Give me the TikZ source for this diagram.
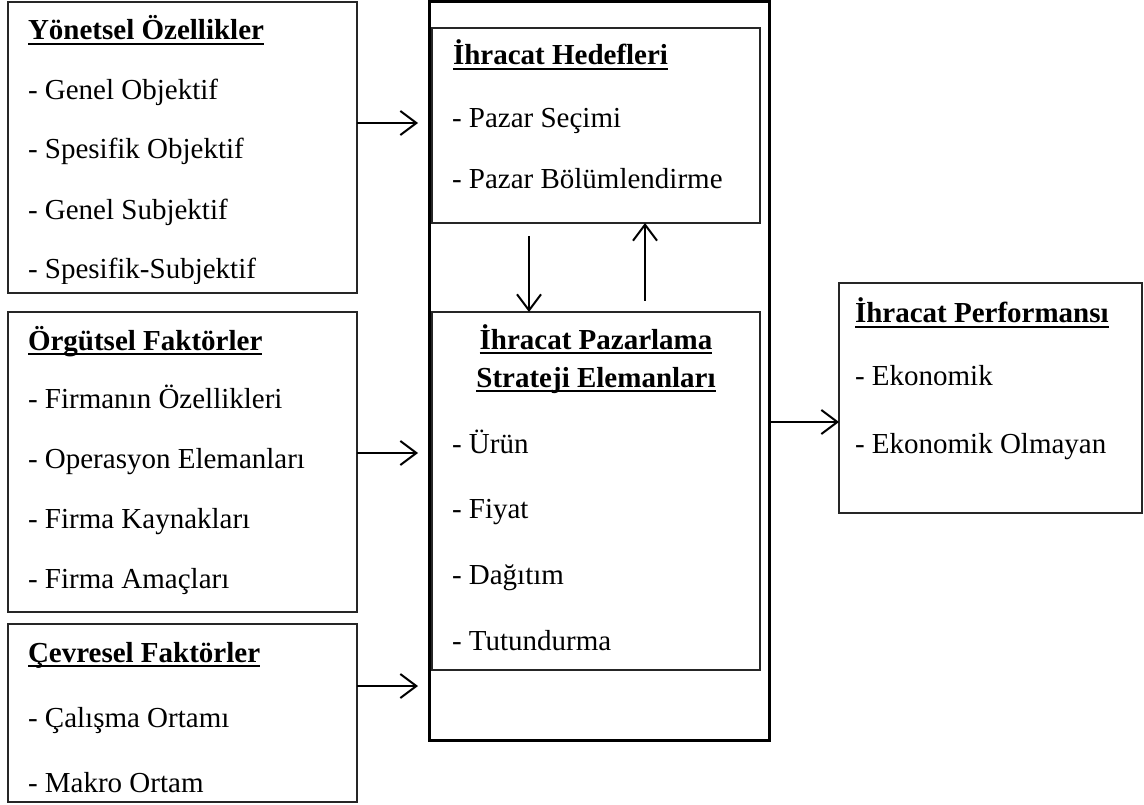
\documentclass[tikz,border=0pt]{standalone}
\usepackage{fontspec}
\setmainfont{Liberation Serif}
\usetikzlibrary{arrows.meta}
\newcommand\ulx[1]{\setbox0\hbox{#1}\rlap{\rule[-5pt]{\wd0}{2pt}}\box0}
\begin{document}
\begin{tikzpicture}[x=1pt,y=-1pt,
  box/.style={draw=black!85, line width=1.3pt, anchor=north west, inner sep=0pt, outer sep=0pt},
  bigbox/.style={draw=black, line width=3pt, anchor=north west, inner sep=0pt, outer sep=0pt},
  txt/.style={anchor=base west, inner sep=0pt, outer sep=0pt, font=\fontsize{29}{35}\selectfont},
  ttl/.style={txt, font=\fontsize{29}{35}\selectfont\bfseries},
  cttl/.style={ttl, anchor=base},
  arr/.style={line width=2pt, -{Straight Barb[length=16pt,width=24pt]}}]
\useasboundingbox (0,0) rectangle (1144,805);
% boxes
\node[box, minimum width=349pt, minimum height=291pt] (yon) at (8,2) {};
\node[box, minimum width=349pt, minimum height=300pt] (org) at (8,312) {};
\node[box, minimum width=349pt, minimum height=178pt] (cev) at (8,624) {};
\node[bigbox, minimum width=340pt, minimum height=738pt] (outer) at (429,2) {};
\node[box, minimum width=328pt, minimum height=195pt] (hed) at (432,28) {};
\node[box, minimum width=328pt, minimum height=358pt] (paz) at (432,312) {};
\node[box, minimum width=303pt, minimum height=230pt] (perf) at (839,283) {};
% Yönetsel
\node[ttl] (t1) at (28,40) {\ulx{Yönetsel Özellikler}};
\node[txt] (t1a) at (28,100) {- Genel Objektif};
\node[txt] (t1b) at (28,159) {- Spesifik Objektif};
\node[txt] (t1c) at (28,220) {- Genel Subjektif};
\begin{scope}
\clip (0,0) rectangle (420,284);
\node[txt] (t1d) at (28,279) {- Spesifik-Subjektif};
\end{scope}
% Örgütsel
\node[ttl] (t2) at (28,350) {\ulx{Örgütsel Faktörler}};
\node[txt] (t2a) at (28,408) {- Firmanın Özellikleri};
\node[txt] (t2b) at (28,468) {- Operasyon Elemanları};
\node[txt] (t2c) at (28,528) {- Firma Kaynakları};
\node[txt] (t2d) at (28,588) {- Firma Amaçları};
% Çevresel
\node[ttl] (t3) at (28,662) {\ulx{Çevresel Faktörler}};
\node[txt] (t3a) at (28,727) {- Çalışma Ortamı};
\node[txt] (t3b) at (28,792) {- Makro Ortam};
% Hedefleri
\node[ttl] (t4) at (453,65) {\ulx{İhracat Hedefleri}};
\node[txt] (t4a) at (452,128) {- Pazar Seçimi};
\node[txt] (t4b) at (452,189) {- Pazar Bölümlendirme};
% Pazarlama
\node[cttl] (t5) at (596,349) {\ulx{İhracat Pazarlama}};
\node[cttl] (t5b) at (596,387) {\ulx{Strateji Elemanları}};
\node[txt] (t5c) at (452,453) {- Ürün};
\node[txt] (t5d) at (452,518) {- Fiyat};
\node[txt] (t5e) at (452,584) {- Dağıtım};
\node[txt] (t5f) at (452,650) {- Tutundurma};
% Performans
\node[ttl] (t6) at (855,323) {\ulx{İhracat Performansı}};
\node[txt] (t6a) at (855,385) {- Ekonomik};
\node[txt] (t6b) at (855,453) {- Ekonomik Olmayan};
% connectors
\coordinate (a1) at (418,123);
\coordinate (a2) at (418,453);
\coordinate (a3) at (418,686);
\coordinate (r1) at (800,422);
\coordinate (d1) at (529,236);
\coordinate (u1) at (645,301);
\draw[arr] (yon.east |- a1) -- (a1);
\draw[arr] (org.east |- a2) -- (a2);
\draw[arr] (cev.east |- a3) -- (a3);
\draw[arr] (outer.east |- r1) -- (perf.west |- r1);
\draw[arr] (d1) -- (paz.north -| d1);
\draw[arr] (u1) -- (hed.south -| u1);
\end{tikzpicture}
\end{document}
